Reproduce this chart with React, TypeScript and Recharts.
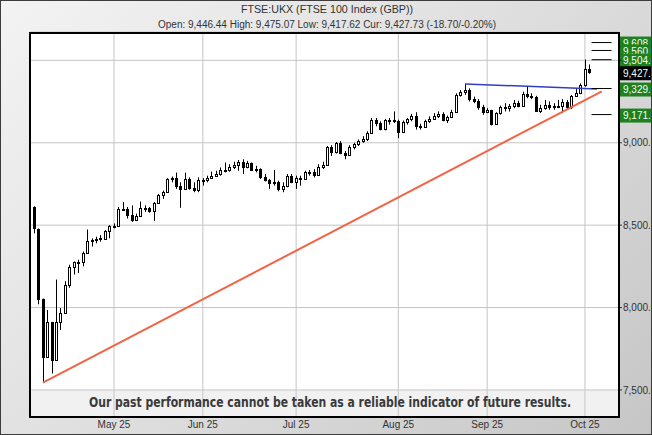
import React from 'react';
import { ComposedChart, Bar, XAxis, YAxis, CartesianGrid, ReferenceLine, ReferenceArea } from 'recharts';

// FTSE 100 daily candles, 3 Apr - 2 Oct 2025
const dates = [
  '2025-04-03', '2025-04-04', '2025-04-07', '2025-04-08', '2025-04-09', '2025-04-10', '2025-04-11', '2025-04-14', '2025-04-15',
  '2025-04-16', '2025-04-17', '2025-04-22', '2025-04-23', '2025-04-24', '2025-04-25', '2025-04-28', '2025-04-29', '2025-04-30',
  '2025-05-01', '2025-05-02', '2025-05-06', '2025-05-07', '2025-05-08', '2025-05-09', '2025-05-12', '2025-05-13', '2025-05-14',
  '2025-05-15', '2025-05-16', '2025-05-19', '2025-05-20', '2025-05-21', '2025-05-22', '2025-05-23', '2025-05-27', '2025-05-28',
  '2025-05-29', '2025-05-30',
  '2025-06-02', '2025-06-03', '2025-06-04', '2025-06-05', '2025-06-06', '2025-06-09', '2025-06-10', '2025-06-11', '2025-06-12',
  '2025-06-13', '2025-06-16', '2025-06-17', '2025-06-18', '2025-06-19', '2025-06-20', '2025-06-23', '2025-06-24', '2025-06-25',
  '2025-06-26', '2025-06-27', '2025-06-30',
  '2025-07-01', '2025-07-02', '2025-07-03', '2025-07-04', '2025-07-07', '2025-07-08', '2025-07-09', '2025-07-10', '2025-07-11',
  '2025-07-14', '2025-07-15', '2025-07-16', '2025-07-17', '2025-07-18', '2025-07-21', '2025-07-22', '2025-07-23', '2025-07-24',
  '2025-07-25', '2025-07-28', '2025-07-29', '2025-07-30', '2025-07-31',
  '2025-08-01', '2025-08-04', '2025-08-05', '2025-08-06', '2025-08-07', '2025-08-08', '2025-08-11', '2025-08-12', '2025-08-13',
  '2025-08-14', '2025-08-15', '2025-08-18', '2025-08-19', '2025-08-20', '2025-08-21', '2025-08-22', '2025-08-26', '2025-08-27',
  '2025-08-28', '2025-08-29',
  '2025-09-01', '2025-09-02', '2025-09-03', '2025-09-04', '2025-09-05', '2025-09-08', '2025-09-09', '2025-09-10', '2025-09-11',
  '2025-09-12', '2025-09-15', '2025-09-16', '2025-09-17', '2025-09-18', '2025-09-19', '2025-09-22', '2025-09-23', '2025-09-24',
  '2025-09-25', '2025-09-26', '2025-09-29', '2025-09-30',
  '2025-10-01', '2025-10-02',
];

const opens = [
  8608, 8474, 8055, 7702, 7910, 7679, 7913, 7964, 8134, 8249, 8275, 8276, 8329, 8403, 8407, 8425, 8417, 8463,
  8494, 8496, 8596, 8597, 8559, 8531, 8554, 8604, 8602, 8585, 8634, 8684, 8700, 8781, 8786, 8739, 8717, 8778, 8726, 8716,
  8772, 8774, 8787, 8801, 8811, 8837, 8832, 8853, 8864, 8885, 8851, 8875, 8834, 8843, 8792, 8775, 8758, 8759, 8718, 8736, 8799,
  8761, 8785, 8778, 8823, 8823, 8806, 8854, 8867, 8975, 8941, 8998, 8938, 8926, 8972, 8992, 9012, 9023, 9061, 9138, 9120, 9081, 9136, 9137,
  9133, 9068, 9128, 9142, 9164, 9100, 9095, 9129, 9147, 9165, 9177, 9138, 9157, 9189, 9288, 9309, 9321, 9265, 9255, 9217,
  9187, 9196, 9116, 9178, 9216, 9208, 9221, 9242, 9225, 9297, 9283, 9277, 9195, 9208, 9228, 9216, 9226, 9223, 9250, 9214, 9285, 9300,
  9350, 9446,
];

const highs = [
  8615, 8480, 8055, 7985, 7910, 8170, 7997, 8160, 8260, 8280, 8290, 8340, 8474, 8420, 8430, 8440, 8470, 8500,
  8510, 8610, 8640, 8610, 8620, 8570, 8643, 8620, 8610, 8640, 8690, 8710, 8785, 8795, 8819, 8760, 8819, 8790, 8760, 8790,
  8785, 8800, 8825, 8830, 8850, 8880, 8870, 8885, 8895, 8900, 8890, 8880, 8860, 8845, 8810, 8780, 8835, 8770, 8760, 8810, 8810,
  8800, 8800, 8830, 8835, 8840, 8870, 8885, 8980, 8985, 9005, 9010, 8950, 8985, 9000, 9020, 9040, 9070, 9150, 9150, 9130, 9145, 9150, 9190,
  9140, 9135, 9150, 9175, 9185, 9115, 9140, 9160, 9180, 9190, 9185, 9165, 9200, 9300, 9320, 9357, 9330, 9280, 9265, 9230,
  9210, 9200, 9185, 9225, 9240, 9235, 9260, 9255, 9310, 9345, 9300, 9285, 9230, 9260, 9250, 9240, 9260, 9265, 9260, 9290, 9330, 9360,
  9505, 9475,
];

const lows = [
  8450, 8020, 7544, 7702, 7600, 7679, 7864, 7964, 8120, 8200, 8210, 8250, 8329, 8370, 8390, 8400, 8411, 8420,
  8480, 8496, 8590, 8540, 8520, 8525, 8549, 8580, 8575, 8526, 8630, 8660, 8695, 8760, 8720, 8605, 8717, 8715, 8700, 8700,
  8740, 8760, 8780, 8795, 8800, 8820, 8825, 8840, 8830, 8810, 8845, 8830, 8820, 8780, 8765, 8720, 8740, 8705, 8700, 8730, 8755,
  8720, 8740, 8775, 8800, 8790, 8800, 8840, 8860, 8920, 8935, 8930, 8900, 8920, 8960, 8980, 9000, 9010, 9055, 9100, 9075, 9075, 9110, 9120,
  9028, 9060, 9110, 9130, 9080, 9080, 9090, 9120, 9140, 9150, 9130, 9120, 9150, 9185, 9280, 9290, 9250, 9240, 9200, 9170,
  9180, 9105, 9110, 9170, 9190, 9190, 9210, 9215, 9220, 9270, 9265, 9190, 9180, 9200, 9200, 9200, 9210, 9180, 9200, 9205, 9280, 9295,
  9340, 9418,
];

const closes = [
  8480, 8055, 7702, 7910, 7679, 7913, 7964, 8134, 8249, 8275, 8276, 8329, 8403, 8407, 8415, 8417, 8463, 8494,
  8496, 8596, 8597, 8559, 8531, 8554, 8604, 8602, 8585, 8634, 8684, 8700, 8781, 8786, 8739, 8717, 8778, 8726, 8716, 8772,
  8774, 8787, 8801, 8811, 8837, 8832, 8853, 8864, 8885, 8851, 8875, 8834, 8843, 8792, 8775, 8758, 8759, 8718, 8736, 8799, 8761,
  8785, 8778, 8823, 8823, 8806, 8854, 8867, 8975, 8941, 8998, 8938, 8926, 8972, 8992, 9012, 9023, 9061, 9138, 9120, 9081, 9136, 9137, 9133,
  9068, 9128, 9142, 9164, 9100, 9095, 9129, 9147, 9165, 9177, 9138, 9157, 9189, 9288, 9309, 9321, 9265, 9255, 9217, 9187,
  9196, 9116, 9178, 9216, 9208, 9221, 9242, 9225, 9297, 9283, 9277, 9195, 9208, 9228, 9216, 9226, 9223, 9250, 9214, 9285, 9300, 9350,
  9446, 9428,
];

const monthStarts = ['2025-05-01', '2025-06-02', '2025-07-01', '2025-08-01', '2025-09-01', '2025-10-01'];
const monthLabels = ['May 25', 'Jun 25', 'Jul 25', 'Aug 25', 'Sep 25', 'Oct 25'];
const priceTicks = [7500, 8000, 8500, 9000, 9500];

// target levels on the right edge, and the last price
const targets = [9608.0, 9560.0, 9504.0, 9329.0, 9171.0];
const lastPrice = 9427.73;

// trend lines, as [bar slot, price]
const supportLine = [[2, 7544], [127.8, 9312]];
const resistLine = [[97, 9357], [126.7, 9326]];
const targetSpan = [125.5, 130];

const rows = dates.map((date, i) => ({
  i,
  date,
  open: opens[i],
  high: highs[i],
  low: lows[i],
  close: closes[i],
  range: [lows[i], highs[i]],
}));

const FONT = '"Liberation Sans", Arial, sans-serif';
const fmt = (v: number, d: number) =>
  v.toLocaleString('en-US', { minimumFractionDigits: d, maximumFractionDigits: d });

const Candle = (props: any) => {
  const { x, y, width, height, payload } = props;
  if (!payload) return null;
  const { open, close, high, low } = payload;
  const top = Math.min(y, y + height);
  const h = Math.abs(height);
  const py = (v: number) => top + (high === low ? 0 : ((high - v) / (high - low)) * h);
  const px = Math.round(x + width / 2);
  const up = close >= open;
  const bTop = Math.round(py(Math.max(open, close))) + 0.5;
  const bBot = Math.max(Math.round(py(Math.min(open, close))) + 0.5, bTop + 1);
  return (
    <g>
      <line x1={px + 0.5} x2={px + 0.5} y1={top} y2={top + h} stroke="#000" strokeWidth={1} />
      <rect x={px - 0.5} y={bTop} width={2} height={bBot - bTop} fill={up ? '#fff' : '#000'} stroke="#000" strokeWidth={1} />
    </g>
  );
};

const PriceTag = (props: any) => {
  const { viewBox, text, bg } = props;
  if (!viewBox) return null;
  const left = viewBox.x + viewBox.width + 1;
  const cy = viewBox.y + 1;
  return (
    <g>
      <rect x={left} y={cy - 7} width={40} height={14} fill={bg} />
      <text x={left + 3} y={cy + 3.5} fill="#f4fff4" fontSize={10} fontFamily={FONT}>
        {text}
      </text>
    </g>
  );
};

export default function App() {
  const tickIdx = monthStarts.map((d) => dates.indexOf(d));
  return (
    <div
      style={{
        position: 'fixed',
        left: 0,
        top: 0,
        width: 652,
        height: 435,
        overflow: 'hidden',
        boxSizing: 'border-box',
        border: '1px solid #3c3c3c',
        background: 'linear-gradient(135deg, #f3f3f3 0%, #dedede 50%, #c6c6c6 100%)',
        fontFamily: FONT,
      }}
    >
      <div style={{ position: 'absolute', left: 0, top: 2, width: 652, textAlign: 'center', fontSize: 10.7, color: '#333' }}>
        FTSE:UKX (FTSE 100 Index (GBP))
      </div>
      <div style={{ position: 'absolute', left: 0, top: 18, width: 652, textAlign: 'center', fontSize: 10, color: '#333' }}>
        Open: 9,446.44 High: 9,475.07 Low: 9,417.62 Cur: 9,427.73 (-18.70/-0.20%)
      </div>
      <div style={{ position: 'absolute', left: -1, top: -1 }}>
        <ComposedChart width={652} height={435} data={rows} margin={{ top: 32, right: 0, bottom: 0, left: 30 }}>
          <CartesianGrid stroke="#c4c4c4" fill="#fff" fillOpacity={1} />
          <ReferenceArea y1={7336} y2={7500} fill="#d0d0d0" fillOpacity={0.3} stroke="none" />
          <XAxis
            type="number"
            dataKey="i"
            domain={[-0.9, 131.67]}
            allowDataOverflow
            ticks={tickIdx}
            tickFormatter={(v: number) => monthLabels[tickIdx.indexOf(v)] ?? ''}
            height={18}
            axisLine={false}
            tickLine={false}
            tickSize={0}
            tickMargin={4}
            tick={{ fontSize: 10, fill: '#333', fontFamily: FONT }}
          />
          <YAxis
            orientation="right"
            domain={[7336, 9672]}
            allowDataOverflow
            ticks={priceTicks}
            tickFormatter={(v: number) => (targets.some((t) => Math.abs(t - v) < 30) ? '' : fmt(v, 1))}
            width={33}
            axisLine={false}
            tickSize={3}
            tickMargin={1}
            tickLine={{ stroke: '#333' }}
            tick={{ fontSize: 10, fill: '#333', fontFamily: FONT, textAnchor: 'start' }}
          />
          <ReferenceLine
            segment={[{ x: supportLine[0][0], y: supportLine[0][1] }, { x: supportLine[1][0], y: supportLine[1][1] }]}
            stroke="#f26446"
            strokeWidth={2}
          />
          <ReferenceLine
            segment={[{ x: resistLine[0][0], y: resistLine[0][1] }, { x: resistLine[1][0], y: resistLine[1][1] }]}
            stroke="#2f3fc0"
            strokeWidth={1.5}
          />
          <Bar dataKey="range" shape={<Candle />} barSize={4} isAnimationActive={false} />
          {targets.map((t) => (
            <ReferenceLine
              key={'seg' + t}
              segment={[{ x: targetSpan[0], y: t }, { x: targetSpan[1], y: t }]}
              stroke="#000"
              strokeWidth={1}
            />
          ))}
          {targets.slice(0, 3).map((t) => (
            <ReferenceLine key={'tag' + t} y={t} stroke="none" label={<PriceTag text={fmt(t, 2)} bg="#1e801e" />} />
          ))}
          <ReferenceLine y={lastPrice} stroke="none" label={<PriceTag text={fmt(lastPrice, 2)} bg="#000" />} />
          {targets.slice(3).map((t) => (
            <ReferenceLine key={'tag' + t} y={t} stroke="none" label={<PriceTag text={fmt(t, 2)} bg="#1e801e" />} />
          ))}
        </ComposedChart>
      </div>
      <div
        style={{
          position: 'absolute',
          left: 28,
          top: 31,
          width: 591,
          height: 386,
          boxSizing: 'border-box',
          border: '2px solid #000',
          pointerEvents: 'none',
        }}
      />
      <svg width={652} height={435} style={{ position: 'absolute', left: -1, top: -1, pointerEvents: 'none' }}>
        <text
          x={330}
          y={407}
          textAnchor="middle"
          textLength={482}
          lengthAdjust="spacingAndGlyphs"
          fontSize={14.5}
          fontWeight="bold"
          fill="#3a3a3a"
          fontFamily='"Liberation Sans Narrow", "DejaVu Sans Condensed", "Liberation Sans", sans-serif'
        >
          Our past performance cannot be taken as a reliable indicator of future results.
        </text>
      </svg>
    </div>
  );
}
